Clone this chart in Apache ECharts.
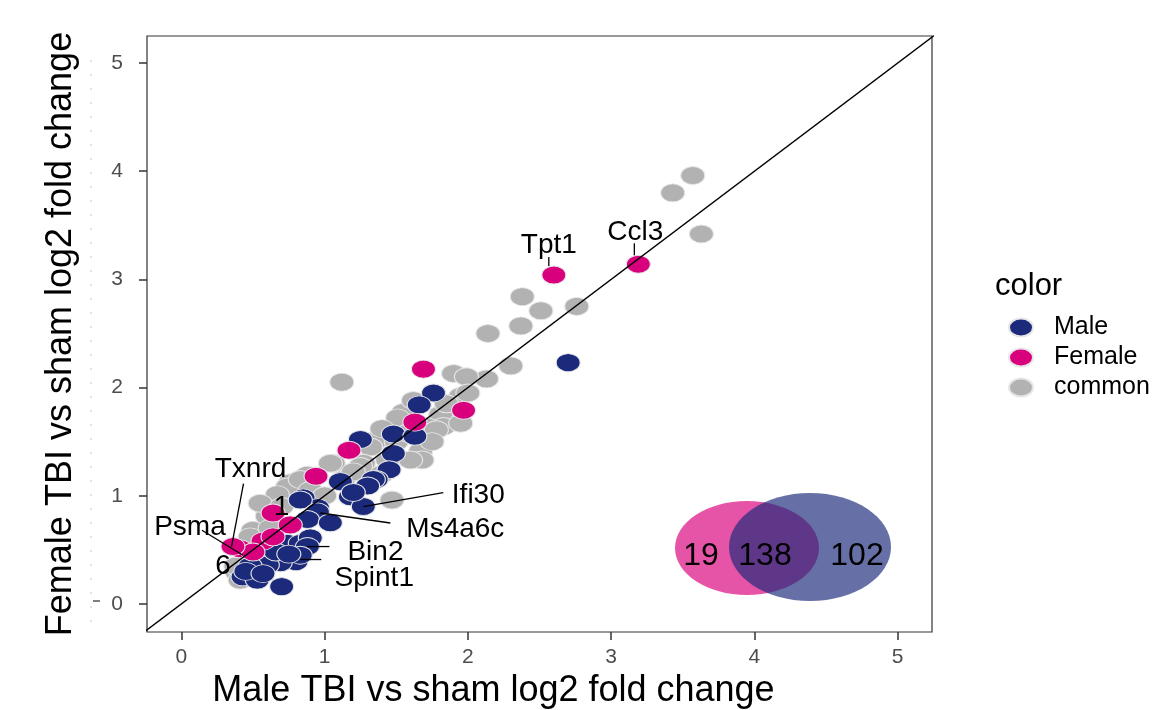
<!DOCTYPE html>
<html>
<head>
<meta charset="utf-8">
<script src="https://cdn.jsdelivr.net/npm/echarts@6/dist/echarts.min.js"></script>
<style>
  html, body { margin: 0; padding: 0; background: #fff; }
  #chart { width: 1161px; height: 710px; }
</style>
</head>
<body>
<div id="chart"></div>
<script>
// log2 fold change: [male, female]
const commonPts = [
  [3.57, 3.96], [3.43, 3.80], [3.63, 3.42], [2.38, 2.84], [2.51, 2.71], [2.76, 2.75],
  [2.37, 2.57], [2.14, 2.50], [2.30, 2.20], [2.13, 2.08], [1.12, 2.05], [1.90, 2.13],
  [1.99, 2.10], [1.95, 1.92], [1.81, 1.75], [1.83, 1.64], [1.55, 1.77], [1.51, 1.72],
  [1.71, 1.64], [1.67, 1.41], [1.68, 1.33], [1.37, 1.52], [1.32, 1.45], [1.06, 1.30],
  [1.27, 1.30], [1.04, 1.30], [0.88, 1.19], [0.76, 1.12], [1.13, 1.15], [0.74, 1.08],
  [0.67, 1.01], [0.50, 0.68], [0.60, 0.81], [0.39, 0.29], [0.41, 0.22], [1.47, 0.96],
  [1.60, 1.33], [1.44, 1.33], [1.25, 1.27], [1.78, 1.61], [1.95, 1.67], [1.40, 1.20],
  [1.20, 1.22], [0.55, 0.93], [0.83, 1.15], [0.48, 0.62], [0.90, 1.05], [1.00, 1.00],
  [0.70, 0.90], [1.50, 1.50], [1.85, 1.85], [2.00, 1.95], [1.58, 1.58], [0.45, 0.40],
  [0.55, 0.45], [0.38, 0.35], [1.62, 1.88], [1.75, 1.50], [1.40, 1.62], [0.62, 0.70]
];
const malePts = [
  [2.70, 2.23], [1.76, 1.95], [1.66, 1.84], [1.48, 1.57], [1.63, 1.55], [1.25, 1.52],
  [1.48, 1.39], [1.45, 1.24], [1.36, 1.15], [1.11, 1.13], [1.34, 1.15], [1.18, 0.99],
  [1.27, 0.90], [0.85, 0.98], [0.95, 0.89], [0.83, 0.96], [0.95, 0.85], [0.88, 0.78],
  [1.04, 0.75], [0.74, 0.56], [0.83, 0.56], [0.80, 0.39], [0.69, 0.38], [0.60, 0.36],
  [0.48, 0.35], [0.43, 0.25], [0.53, 0.22], [0.70, 0.16], [0.66, 0.48], [1.30, 1.09],
  [1.20, 1.03], [0.90, 0.61], [0.88, 0.53], [0.83, 0.45], [0.45, 0.30], [0.57, 0.28],
  [0.75, 0.46]
];
const femalePts = [
  [2.60, 3.04], [3.19, 3.14], [1.69, 2.17], [1.97, 1.79], [1.63, 1.68], [1.17, 1.42],
  [0.94, 1.18], [0.64, 0.84], [0.41, 0.51], [0.57, 0.58], [0.64, 0.62], [0.76, 0.73],
  [0.50, 0.48], [0.36, 0.53]
];

// gene labels and the point each one points to
const labelNames = ['Tpt1', 'Ccl3', 'Txnrd', '1', 'Psma', '6', 'Ifi30', 'Ms4a6c', 'Bin2', 'Spint1'];
const labelX = [2.60, 3.19, 0.35, 0.70, 0.43, 0.29, 1.27, 0.97, 0.88, 0.83];
const labelY = [3.04, 3.14, 0.53, 0.89, 0.45, 0.35, 0.90, 0.84, 0.53, 0.41];

const tickValues = [0, 1, 2, 3, 4, 5];
const vennCounts = [19, 138, 102];

// pixel offsets of the repelled labels (text centre, leader start) from their point
const labelLayout = [
  { text: [-5, -30], leader: [-5, -18, -5, -9] },
  { text: [-3, -32], leader: [-4, -21, -4, -9] },
  { text: [19, -77], leader: [12, -63, 0, 0] },
  { text: [0, 0] },
  { text: [-53, -28], leader: [-41, -25, 0, 0] },
  { text: [0, 0] },
  { text: [115, -11], leader: [80, -14, 0, 0] },
  { text: [135, 16], leader: [70, 10, 0, 0] },
  { text: [68, 6], leader: [22, 0, 0, 0] },
  { text: [74, 19], leader: [21, 0, 0, 0] }
];

const FONT = '"Liberation Sans", Arial, sans-serif';
const ELLIPSE = 'path://M0,9a12,9 0 1,0 24,0a12,9 0 1,0 -24,0z';
const COLORS = { Male: '#1b2a7b', Female: '#d9007e', common: '#b2b2b2' };

const pointSeries = (name, data) => ({
  name,
  type: 'scatter',
  data,
  symbol: ELLIPSE,
  symbolSize: [24, 18],
  itemStyle: { color: COLORS[name], borderColor: '#e6e6e6', borderWidth: 1, opacity: 1 },
  emphasis: { disabled: true },
  z: 2
});

const vennText = (i, x) => ({
  type: 'text', x, y: 556, z: 11, silent: true,
  style: { text: String(vennCounts[i]), font: '32px ' + FONT, fill: '#000', textAlign: 'center', textVerticalAlign: 'middle' }
});

const chart = echarts.init(document.getElementById('chart'), null, { renderer: 'canvas' });

const option = {
  animation: false,
  textStyle: { fontFamily: FONT },
  title: {
    text: 'color',
    left: 990,
    top: 266,
    textStyle: { fontFamily: FONT, fontSize: 31, fontWeight: 'normal', color: '#000' }
  },
  legend: {
    orient: 'vertical',
    left: 1003,
    top: 310,
    data: ['Male', 'Female', 'common'],
    icon: ELLIPSE,
    itemWidth: 24,
    itemHeight: 18,
    itemGap: 5,
    textStyle: { fontFamily: FONT, fontSize: 25, color: '#000', padding: [0, 0, 0, 16] }
  },
  grid: {
    left: 147, top: 36, width: 785, height: 596,
    outerBoundsMode: 'none',
    show: true, borderColor: '#333', borderWidth: 1.2, backgroundColor: '#fff'
  },
  xAxis: {
    type: 'value',
    min: -0.24,
    max: 5.24,
    name: 'Male TBI vs sham log2 fold change',
    nameLocation: 'middle',
    nameGap: 40,
    nameTextStyle: { fontFamily: FONT, fontSize: 36, color: '#000', padding: [0, 92, 0, 0] },
    axisLine: { show: false, onZero: false },
    axisTick: { show: true, length: 8, customValues: tickValues, lineStyle: { color: '#333', width: 1.5 } },
    axisLabel: { customValues: tickValues, fontSize: 21, color: '#4d4d4d', margin: 15 },
    splitLine: { show: false }
  },
  yAxis: {
    type: 'value',
    min: -0.26,
    max: 5.25,
    name: 'Female TBI vs sham log2 fold change',
    nameLocation: 'middle',
    nameGap: 68,
    nameTextStyle: { fontFamily: FONT, fontSize: 36, color: '#000' },
    axisLine: { show: false, onZero: false },
    axisTick: { show: true, length: 8, customValues: tickValues, lineStyle: { color: '#333', width: 1.5 } },
    axisLabel: { customValues: tickValues, fontSize: 21, color: '#4d4d4d', margin: 24 },
    splitLine: { show: false }
  },
  graphic: [
    // faint dotted guide and stub left of the y axis labels
    { type: 'line', shape: { x1: 91, y1: 60, x2: 91, y2: 632 }, style: { stroke: '#c8c8c8', lineWidth: 1, lineDash: [2, 12] }, silent: true },
    { type: 'line', shape: { x1: 93, y1: 601, x2: 100, y2: 601 }, style: { stroke: '#555', lineWidth: 1.5 }, silent: true },
    // venn inset
    { type: 'ellipse', shape: { cx: 747, cy: 548, rx: 72, ry: 47 }, style: { fill: 'rgba(217,0,126,0.67)' }, z: 10, silent: true },
    { type: 'ellipse', shape: { cx: 810, cy: 547, rx: 81, ry: 54 }, style: { fill: 'rgba(27,42,123,0.67)' }, z: 10, silent: true },
    vennText(0, 701),
    vennText(1, 765),
    vennText(2, 857)
  ],
  series: [
    pointSeries('common', commonPts),
    pointSeries('Male', malePts),
    pointSeries('Female', femalePts),
    {
      // y = x reference
      type: 'line',
      data: [[-0.3, -0.3], [5.3, 5.3]],
      symbol: 'none',
      lineStyle: { color: '#000', width: 1.3 },
      clip: true,
      silent: true,
      z: 3
    },
    {
      type: 'custom',
      data: labelNames.map((n, i) => [labelX[i], labelY[i]]),
      clip: false,
      silent: true,
      z: 4,
      renderItem: (params, api) => {
        const p = api.coord([api.value(0), api.value(1)]);
        const lay = labelLayout[params.dataIndex];
        const children = [];
        if (lay.leader) {
          const l = lay.leader;
          children.push({
            type: 'line',
            shape: { x1: p[0] + l[0], y1: p[1] + l[1], x2: p[0] + l[2], y2: p[1] + l[3] },
            style: { stroke: '#000', lineWidth: 1.3 }
          });
        }
        children.push({
          type: 'text',
          x: p[0] + lay.text[0],
          y: p[1] + lay.text[1],
          style: {
            text: labelNames[params.dataIndex],
            font: '28px ' + FONT,
            fill: '#000',
            textAlign: 'center',
            textVerticalAlign: 'middle'
          }
        });
        return { type: 'group', children };
      }
    }
  ]
};

chart.setOption(option);
</script>
</body>
</html>
